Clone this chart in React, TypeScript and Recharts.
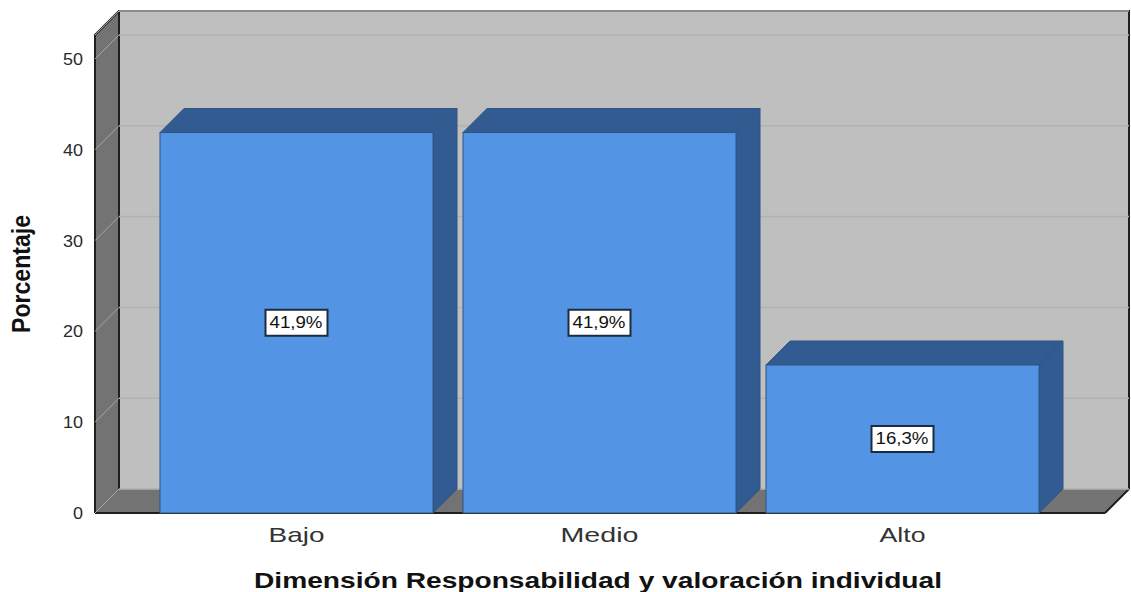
import { BarChart, Bar, XAxis, YAxis, CartesianGrid, LabelList, Label, usePlotArea } from "recharts";

const categories = ["Bajo", "Medio", "Alto"];
const percentages = [41.9, 41.9, 16.3];
const percentLabels = ["41,9%", "41,9%", "16,3%"];
const yTicks = [0, 10, 20, 30, 40, 50];

const data = categories.map((c, i) => ({ name: c, value: percentages[i], label: percentLabels[i] }));

const DEPTH = 24;
const FONT = "'Liberation Sans', Arial, sans-serif";

// side wall, floor and back wall of the fake 3D box
function Walls() {
  const area = usePlotArea();
  if (!area) return null;
  const { x, y, width, height } = area;
  const l = x, r = x + width, t = y, b = y + height;
  const pts = (a: number[][]) => a.map((p) => p.join(",")).join(" ");
  return (
    <g>
      <rect x={l + DEPTH} y={t - DEPTH} width={width} height={height} fill="#bfbfbf" />
      <polygon points={pts([[l, t], [l + DEPTH, t - DEPTH], [l + DEPTH, b - DEPTH], [l, b]])} fill="#737373" />
      <polygon points={pts([[l, b], [l + DEPTH, b - DEPTH], [r + DEPTH, b - DEPTH], [r, b]])} fill="#737373" />
    </g>
  );
}

function Frame() {
  const area = usePlotArea();
  if (!area) return null;
  const { x, y, width, height } = area;
  const l = x, r = x + width, t = y, b = y + height;
  const line = "#1f1f1f";
  return (
    <g fill="none" stroke={line} strokeWidth={2}>
      <path d={`M${l},${b} L${l},${t} L${l + DEPTH},${t - DEPTH} L${r + DEPTH},${t - DEPTH} L${r + DEPTH},${b - DEPTH}`} />
      <path d={`M${l + DEPTH},${t - DEPTH} L${l + DEPTH},${b - DEPTH}`} />
      <path d={`M${r + DEPTH},${b - DEPTH} L${r},${b}`} />
      <path d={`M${l},${b} L${r},${b}`} />
    </g>
  );
}

function GridLine(props: any) {
  const { x1, x2, y1 } = props;
  return (
    <g key={props.key}>
      <line x1={x1 + DEPTH} x2={x2 + DEPTH} y1={y1 - DEPTH} y2={y1 - DEPTH} stroke="#b2b2b2" strokeWidth={1.5} />
      <line x1={x1} x2={x1 + DEPTH} y1={y1} y2={y1 - DEPTH} stroke="#a6a6a6" strokeWidth={1} />
    </g>
  );
}

function Box3D(props: any) {
  const { x, y, width, height } = props;
  const r = x + width;
  const b = y + height;
  return (
    <g stroke="#2f5586" strokeWidth={1}>
      <polygon points={`${x},${y} ${x + DEPTH},${y - DEPTH} ${r + DEPTH},${y - DEPTH} ${r},${y}`} fill="#325c91" />
      <polygon points={`${r},${y} ${r + DEPTH},${y - DEPTH} ${r + DEPTH},${b - DEPTH} ${r},${b}`} fill="#325c91" />
      <rect x={x} y={y} width={width} height={height} fill="#5394e5" />
    </g>
  );
}

function ValueBox(props: any) {
  const { x, y, width, height, value } = props;
  const cx = x + width / 2;
  const cy = y + height / 2;
  return (
    <g>
      <rect x={cx - 31} y={cy - 13} width={62} height={26} fill="#ffffff" stroke="#1c2c40" strokeWidth={2} />
      <text x={cx - 0.5} y={cy + 5.5} textAnchor="middle" fontFamily={FONT} fontSize={16} fill="#111"
        textLength={53} lengthAdjust="spacingAndGlyphs">{value}</text>
    </g>
  );
}

function YTick(props: any) {
  const { y, payload } = props;
  const s = String(payload.value);
  return (
    <text x={83} y={y + 6} textAnchor="end" fontFamily={FONT} fontSize={16} fill="#2a2a2a"
      textLength={s.length * 10} lengthAdjust="spacingAndGlyphs">{s}</text>
  );
}

const xTickWidths: Record<string, number> = { Bajo: 56, Medio: 78, Alto: 46 };

function XTick(props: any) {
  const { x, payload } = props;
  return (
    <text x={x} y={542} textAnchor="middle" fontFamily={FONT} fontSize={21} fill="#333"
      textLength={xTickWidths[payload.value]} lengthAdjust="spacingAndGlyphs">{payload.value}</text>
  );
}

export default function App() {
  return (
    <div style={{ position: "absolute", left: 0, top: 0, width: 1131, height: 592, background: "#fff" }}>
      <BarChart width={1131} height={592} data={data} barSize={273}
        margin={{ top: 35, right: 26, bottom: 0, left: 0 }}>
        <Walls />
        <CartesianGrid vertical={false} horizontal={(p: any) => <GridLine {...p} />} zIndex={100} />
        <XAxis dataKey="name" axisLine={false} tickLine={false} padding={{ left: 50, right: 51 }}
          tick={<XTick />} interval={0} height={79}>
          <Label content={() => (
            <text x={598} y={588} textAnchor="middle" fontFamily={FONT} fontSize={22} fontWeight="bold" fill="#111"
              textLength={688} lengthAdjust="spacingAndGlyphs">Dimensión Responsabilidad y valoración individual</text>
          )} />
        </XAxis>
        <YAxis domain={[0, 52.64]} ticks={yTicks} axisLine={false} tickLine={false} tick={<YTick />} width={95}>
          <Label content={() => (
            <text transform="translate(30,274) rotate(-90)" textAnchor="middle" fontFamily={FONT} fontSize={25}
              fontWeight="bold" fill="#111" textLength={118} lengthAdjust="spacingAndGlyphs">Porcentaje</text>
          )} />
        </YAxis>
        <Frame />
        <Bar dataKey="value" shape={<Box3D />} isAnimationActive={false}>
          <LabelList dataKey="label" content={<ValueBox />} />
        </Bar>
      </BarChart>
    </div>
  );
}
